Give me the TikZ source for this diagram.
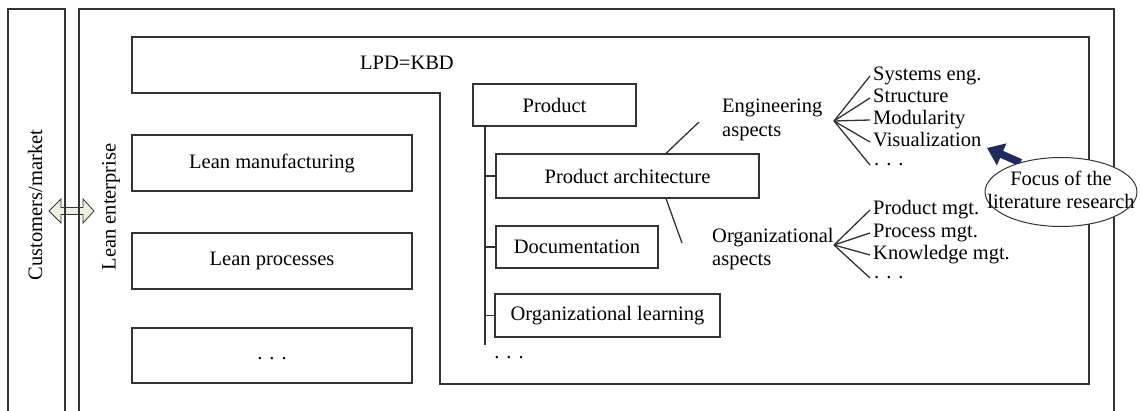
\documentclass[tikz,border=0pt]{standalone}
\usepackage{fontspec}
\setmainfont{Liberation Serif}
\usetikzlibrary{shapes.geometric,arrows.meta,calc}
\definecolor{ln}{HTML}{333333}
\definecolor{dafill}{HTML}{EBF1DE}
\definecolor{navyblue}{RGB}{31,42,94}
\newcommand{\mydots}{.\hspace{7pt}.\hspace{7pt}.}
\begin{document}
\begin{tikzpicture}[x=1pt,y=-1pt,
  every node/.style={font=\fontsize{20.5}{23.5}\selectfont, text=black},
  ln/.style={draw=ln, line width=1.3pt},
  box/.style={ln, rectangle, inner sep=0pt},
  lbl/.style={inner sep=0pt, align=left, anchor=west},
  item/.style={anchor=west, inner xsep=3pt, inner ysep=0pt, text height=14pt, text depth=4pt},
  dotitem/.style={anchor=west, inner xsep=4pt, inner ysep=0pt}
]
\useasboundingbox (0,0) rectangle (1142,411);

% double arrow between market and enterprise
\filldraw[fill=dafill, draw=ln, line width=0.8pt]
  (49,211) -- (61,199) -- (61,207.5) -- (83,207.5) -- (83,199) -- (94,211)
  -- (83,223) -- (83,214.5) -- (61,214.5) -- (61,223) -- cycle;

% outer open boxes
\draw[ln] (8,412) -- (8,9) -- (65,9) -- (65,412);
\draw[ln] (79,412) -- (79,9) -- (1114,9) -- (1114,412);
\node[rotate=90] (cust) at (35,205) {Customers/market};
\node[rotate=90] (lean) at (111,207) {Lean enterprise};

% LPD=KBD region
\draw[ln] (132,37) -- (1089,37) -- (1089,384) -- (440,384) -- (440,93) -- (132,93) -- cycle;
\node (lpd) at (407,63) {LPD=KBD};

% left boxes
\node[box, minimum width=280pt, minimum height=56pt] (lm) at (272,163) {Lean manufacturing};
\node[box, minimum width=280pt, minimum height=56pt] (lp) at (272,261) {Lean processes};
\node[box, minimum width=280pt, minimum height=55pt, text height=12pt, text depth=5pt] (ld) at (272,355.5) {\mydots};

% product tree
\node[box, minimum width=163pt, minimum height=42pt] (prod) at (554.5,105) {Product};
\node[box, minimum width=263pt, minimum height=44pt] (pa) at (627.5,176) {Product architecture\hspace{20pt}};
\node[box, minimum width=162pt, minimum height=42pt] (doc) at (577,247) {Documentation};
\node[box, minimum width=225pt, minimum height=43pt] (ol) at (607.5,315.5) {Organizational learning};
\coordinate (treebot) at (485,345);
\draw[ln] (prod.south -| treebot) -- (treebot);
\draw[ln] (pa.west -| treebot) -- (pa.west);
\draw[ln] (doc.west -| treebot) -- (doc.west);
\draw[ln] (ol.west -| treebot) -- (ol.west);
\node (tdots) at (509,358) {\mydots};

% aspects
\node[lbl] (eng) at (722,120) {Engineering\\aspects};
\node[lbl] (org) at (712,249) {Organizational\\aspects};
\coordinate (engend) at (699,122);
\coordinate (orgend) at (682,243);
\draw[ln] ([xshift=38.5pt]pa.north) -- (engend);
\draw[ln] ([xshift=38.5pt]pa.south) -- (orgend);

% engineering fan
\coordinate (ev) at (834,121);
\node[item] (se) at (870,76) {Systems eng.};
\node[item] (st) at (870,98) {Structure};
\node[item] (mo) at (870,120) {Modularity};
\node[item] (vi) at (870,142) {Visualization};
\node[dotitem] (ed) at (870,165) {\mydots};
\foreach \n in {se,st,mo,vi,ed} \draw[ln] (ev) -- (\n.west);

% organizational fan
\coordinate (ov) at (834,245);
\node[item] (pm) at (870,210) {Product mgt.};
\node[item] (prm) at (870,233) {Process mgt.};
\node[item] (km) at (870,255) {Knowledge mgt.};
\node[dotitem] (od) at (870,278) {\mydots};
\foreach \n in {pm,prm,km,od} \draw[ln] (ov) -- (\n.west);

% focus ellipse and arrow
\node[ellipse, minimum width=152pt, minimum height=69pt, inner sep=0pt] (focell) at (1061,192) {};
\coordinate (vtip) at (987,148);
\draw[navyblue, line width=7.5pt, -{Triangle[length=16pt,width=23pt]}] (focell.144) -- (vtip);
\node[ellipse, ln, fill=white, minimum width=152pt, minimum height=69pt, inner sep=0pt, line width=1pt] (focshape) at (1061,192) {};
\node[align=center, inner sep=0pt] (foctxt) at (1061,190) {Focus of the\\literature research};
\end{tikzpicture}
\end{document}
